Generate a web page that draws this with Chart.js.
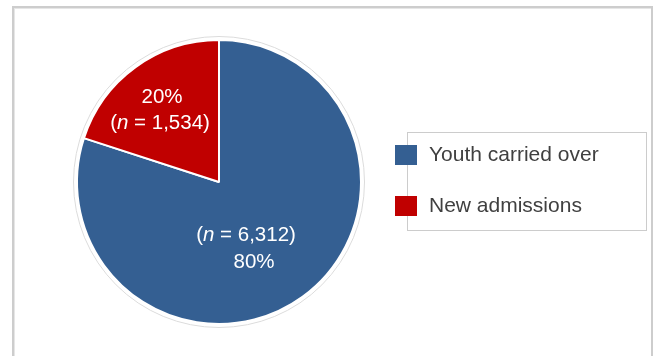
<!DOCTYPE html>
<html>
<head>
<meta charset="utf-8">
<script src="https://cdn.jsdelivr.net/npm/chart.js@4"></script>
<style>
  html, body { margin: 0; padding: 0; background: #fff; }
  #frame {
    position: absolute; left: 12px; top: 6px; width: 637px; height: 400px;
    border: 2px solid #cdcdcd; box-shadow: inset 1px 1px 0 #e6e6e6;
  }
  #grafico { position: absolute; left: 0; top: 0; }
</style>
</head>
<body>
<div id="frame"></div>
<canvas id="grafico" width="657" height="356"></canvas>
<script>
const categorias = ['Youth carried over', 'New admissions'];
const contagens = [6312, 1534];
const percentuais = [80, 20];
const cores = ['#345f92', '#c00000'];

// where the two text lines sit, relative to the pie centre
const posRotulos = [[31, 66], [-59, -72]];
const fonteRotulo = '20.5px "Liberation Sans", Arial, sans-serif';
const fonteLegenda = '21px "Liberation Sans", Arial, sans-serif';

function desenhaN(ctx, x, y, total) {
    const partes = [
        ['(', 'normal'],
        ['n', 'italic'],
        [' = ' + total.toLocaleString('en-US') + ')', 'normal']
    ];
    let largura = 0;
    partes.forEach(p => {
        ctx.font = (p[1] === 'italic' ? 'italic ' : '') + fonteRotulo;
        largura += ctx.measureText(p[0]).width;
    });
    let cx = x - largura / 2;
    ctx.textAlign = 'left';
    partes.forEach(p => {
        ctx.font = (p[1] === 'italic' ? 'italic ' : '') + fonteRotulo;
        ctx.fillText(p[0], cx, y);
        cx += ctx.measureText(p[0]).width;
    });
}

const rotulosFatias = {
    id: 'rotulosFatias',
    beforeDatasetsDraw(chart) {
        const arco = chart.getDatasetMeta(0).data[0];
        const ctx = chart.ctx;
        ctx.save();
        ctx.strokeStyle = '#dcdcdc';
        ctx.lineWidth = 1;
        ctx.beginPath();
        ctx.arc(arco.x, arco.y, arco.outerRadius + 3.5, 0, Math.PI * 2);
        ctx.stroke();
        ctx.restore();
    },
    afterDatasetsDraw(chart) {
        const meta = chart.getDatasetMeta(0);
        const ctx = chart.ctx;
        ctx.save();
        ctx.fillStyle = '#ffffff';
        ctx.textBaseline = 'middle';
        meta.data.forEach((arco, i) => {
            const x = arco.x + posRotulos[i][0];
            const y = arco.y + posRotulos[i][1];
            const pct = percentuais[i] + '%';
            ctx.font = fonteRotulo;
            ctx.textAlign = 'center';
            if (i === 0) {
                desenhaN(ctx, x - 4, y - 13, contagens[i]);
                ctx.font = fonteRotulo;
                ctx.textAlign = 'center';
                ctx.fillText(pct, x + 4, y + 14);
            } else {
                ctx.fillText(pct, x + 2, y - 13);
                desenhaN(ctx, x, y + 13, contagens[i]);
            }
        });
        ctx.restore();
    },
    afterDraw(chart) {
        const ctx = chart.ctx;
        ctx.save();
        ctx.strokeStyle = '#cccccc';
        ctx.lineWidth = 1;
        ctx.strokeRect(407.5, 132.5, 239, 98);
        ctx.font = fonteLegenda;
        ctx.textBaseline = 'middle';
        ctx.textAlign = 'left';
        categorias.forEach((nome, i) => {
            const y = 155 + i * 51;
            ctx.fillStyle = cores[i];
            ctx.fillRect(395, y - 10, 22, 20);
            ctx.fillStyle = '#404040';
            ctx.fillText(nome, 429, y);
        });
        ctx.restore();
    }
};

new Chart(document.getElementById('grafico'), {
    type: 'pie',
    data: {
        labels: categorias,
        datasets: [{
            data: percentuais,
            backgroundColor: cores,
            borderColor: '#ffffff',
            borderWidth: 2
        }]
    },
    options: {
        responsive: false,
        animation: false,
        layout: { padding: { left: 76, right: 295, top: 39, bottom: 31 } },
        plugins: {
            legend: { display: false },
            tooltip: { enabled: false }
        }
    },
    plugins: [rotulosFatias]
});
</script>
</body>
</html>
